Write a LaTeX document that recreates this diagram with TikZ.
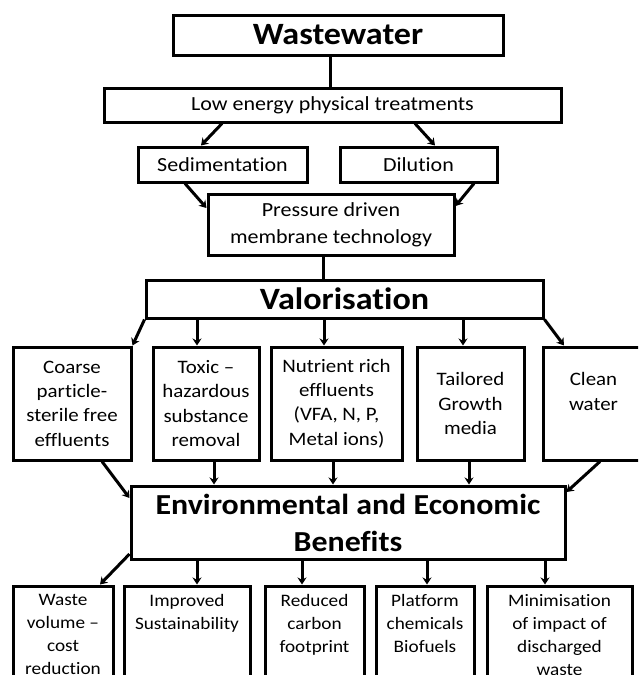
\documentclass[tikz,border=0pt]{standalone}
\usepackage{fontspec}
\setmainfont{Carlito}[FakeStretch=1.1,Ligatures=CommonOff]
\usetikzlibrary{arrows.meta}
\begin{document}
\begin{tikzpicture}[x=1pt,y=-1pt,
  box/.style={draw, line width=3pt, inner sep=0pt, fill=white},
  lbl/.style={align=center, inner sep=0pt},
  conn/.style={line width=3pt, -{Stealth[length=7pt,width=9pt]}},
  plain/.style={line width=3pt},
  fbig/.style={font=\fontsize{31}{37}\selectfont\bfseries},
  f20/.style={font=\fontsize{20}{27}\selectfont},
  f19/.style={font=\fontsize{19}{24.3}\selectfont},
  fenv/.style={font=\fontsize{29}{37}\selectfont\bfseries},
  f18/.style={font=\fontsize{17.5}{23}\selectfont}]
\useasboundingbox (0,0) rectangle (638,675);
\clip (0,0) rectangle (638,675);
% top part
\node[box, minimum width=330, minimum height=40, fbig] (ww) at (338,35) {Wastewater};
\node[box, minimum width=457, minimum height=34, f20] (low) at (332.5,105) {Low energy physical treatments};
\node[box, minimum width=169, minimum height=35, f20] (sed) at (222.5,164.5) {Sedimentation};
\node[box, minimum width=157, minimum height=35, f20] (dil) at (418.5,164.5) {Dilution};
\node[box, minimum width=246, minimum height=61, f20, align=center] (pdm) at (331,224.5) {Pressure driven\\membrane technology};
\node[box, minimum width=397, minimum height=38, fbig] (val) at (344.5,299) {Valorisation};
% middle row
\node[box, minimum width=118, minimum height=113] (coarse) at (72,403.5) {};
\node[box, minimum width=106, minimum height=113] (toxic) at (206,403.5) {};
\node[box, minimum width=131, minimum height=113] (nutr) at (336.5,403.5) {};
\node[box, minimum width=107, minimum height=113] (tail) at (470.5,403.5) {};
\node[box, minimum width=117, minimum height=113] (clean) at (601.5,403.5) {};
\node[lbl, f19] (coarse-t) at (coarse) {Coarse\\particle-\\sterile free\\effluents};
\node[lbl, f19] (toxic-t) at (toxic) {Toxic –\\hazardous\\substance\\removal};
\node[lbl, f19] (nutr-t) at (nutr) {Nutrient rich\\effluents\\(VFA, N, P,\\Metal ions)};
\node[lbl, f19] (tail-t) at (tail) {Tailored\\Growth\\media};
\node[lbl, f19, anchor=north] (clean-t) at ([xshift=-8]tail-t.north -| clean) {Clean\\water};
% env
\node[box, minimum width=434, minimum height=73, fenv, align=center] (env) at (348,522.5) {Environmental and Economic\\Benefits};
% bottom row
\node[box, minimum width=100, minimum height=114] (waste) at (63,643) {};
\node[box, minimum width=126, minimum height=114] (impr) at (187,643) {};
\node[box, minimum width=99, minimum height=114] (red) at (314.5,643) {};
\node[box, minimum width=98, minimum height=114] (plat) at (425,643) {};
\node[box, minimum width=145, minimum height=114] (mini) at (559.5,643) {};
\node[lbl, f18, anchor=north] (waste-t) at ([yshift=-10]waste.north) {Waste\\volume –\\cost\\reduction};
\node[lbl, f18, anchor=north] (impr-t) at ([yshift=-10]impr.north) {Improved\\Sustainability};
\node[lbl, f18, anchor=north] (red-t) at ([yshift=-10]red.north) {Reduced\\carbon\\footprint};
\node[lbl, f18, anchor=north] (plat-t) at ([yshift=-10]plat.north) {Platform\\chemicals\\Biofuels};
\node[lbl, f18, anchor=north] (mini-t) at ([yshift=-10]mini.north) {Minimisation\\of impact of\\discharged\\waste};
% connectors top
\coordinate (a1) at ([xshift=-8]ww.south);
\draw[plain] (a1) -- (a1 |- low.north);
\draw[conn] ([xshift=-110.5]low.south) -- ([xshift=-21.5]sed.north);
\draw[conn] ([xshift=82.5]low.south) -- ([xshift=16.5]dil.north);
\draw[conn] ([xshift=-37.5]sed.south) -- ([yshift=16.5]pdm.west);
\draw[conn] ([xshift=55.5]dil.south) -- ([yshift=18.5]pdm.east);
\coordinate (a2) at ([xshift=-8]pdm.south);
\draw[plain] (a2) -- (a2 |- val.north);
% val to row
\draw[conn] (val.south west) -- (coarse.north east);
\coordinate (b2) at (197,318);
\draw[conn] (b2 |- val.south) -- (b2 |- toxic.north);
\coordinate (b3) at (324,318);
\draw[conn] (b3 |- val.south) -- (b3 |- nutr.north);
\coordinate (b4) at (463,318);
\draw[conn] (b4 |- val.south) -- (b4 |- tail.north);
\draw[conn] (val.south east) -- ([xshift=-37.5]clean.north);
% row to env
\draw[conn] ([xshift=30]coarse.south) -- ([yshift=24.5]env.west);
\coordinate (c2) at (214,470);
\draw[conn] (c2 |- toxic.south) -- (c2 |- env.north);
\coordinate (c3) at (333,470);
\draw[conn] (c3 |- nutr.south) -- (c3 |- env.north);
\coordinate (c4) at (469,470);
\draw[conn] (c4 |- tail.south) -- (c4 |- env.north);
\draw[conn] ([xshift=-1.5]clean.south) -- ([yshift=30.5]env.east);
% env to bottom
\draw[conn] ([yshift=-31.5]env.west) -- ([xshift=37]waste.north);
\coordinate (d2) at (197,570);
\draw[conn] (d2 |- env.south) -- (d2 |- impr.north);
\coordinate (d3) at (302,570);
\draw[conn] (d3 |- env.south) -- (d3 |- red.north);
\coordinate (d4) at (427,570);
\draw[conn] (d4 |- env.south) -- (d4 |- plat.north);
\coordinate (d5) at (545,570);
\draw[conn] (d5 |- env.south) -- (d5 |- mini.north);
\end{tikzpicture}
\end{document}
